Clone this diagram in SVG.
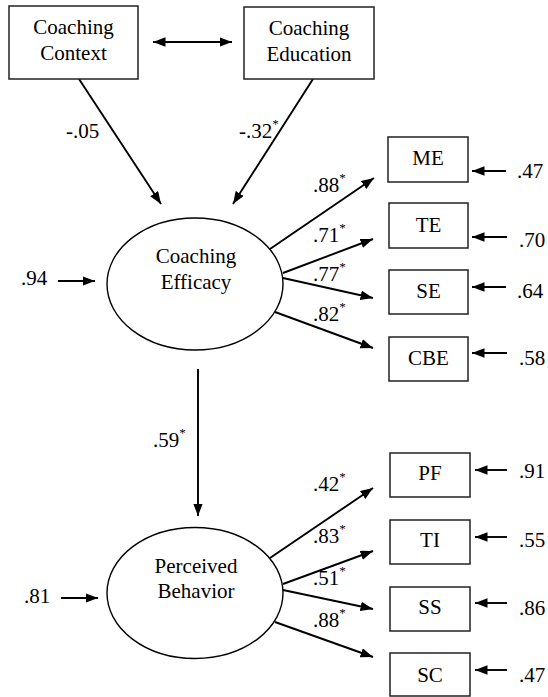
<svg xmlns="http://www.w3.org/2000/svg" width="548" height="697" viewBox="0 0 548 697">
<defs>
<marker id="ah" markerUnits="userSpaceOnUse" markerWidth="13" markerHeight="10" refX="12.5" refY="4.75" orient="auto-start-reverse">
<path d="M0,0 L12.5,4.75 L0,9.5 z" fill="#000"/>
</marker>
</defs>
<style>
.c{text-anchor:middle}
.box{fill:#fff;stroke:#222;stroke-width:1.5}
.ell{fill:#fff;stroke:#000;stroke-width:1.4}
.ln{stroke:#000;stroke-width:1.9;fill:none;marker-end:url(#ah)}
.dbl{marker-start:url(#ah)}
</style>
<rect width="548" height="697" fill="#fff"/>
<g id="connectors">
<line class="ln dbl" x1="153" y1="42" x2="232" y2="42"/>
<line class="ln" x1="79" y1="79" x2="161" y2="204"/>
<line class="ln" x1="313" y1="79" x2="233" y2="204"/>
<line class="ln" x1="58" y1="281" x2="95" y2="281"/>
<line class="ln" x1="270" y1="249" x2="374" y2="178"/>
<line class="ln" x1="283" y1="273" x2="373" y2="239"/>
<line class="ln" x1="283" y1="278" x2="373" y2="298"/>
<line class="ln" x1="275" y1="312" x2="373" y2="348"/>
<line class="ln" x1="506" y1="171" x2="472" y2="171"/>
<line class="ln" x1="507" y1="237" x2="472" y2="237"/>
<line class="ln" x1="506" y1="287" x2="472" y2="287"/>
<line class="ln" x1="507" y1="353" x2="472" y2="353"/>
<line class="ln" x1="198" y1="369" x2="198" y2="516"/>
<line class="ln" x1="61" y1="598" x2="98" y2="598"/>
<line class="ln" x1="270" y1="558" x2="373" y2="488"/>
<line class="ln" x1="283" y1="584" x2="373" y2="551"/>
<line class="ln" x1="283" y1="590" x2="373" y2="609"/>
<line class="ln" x1="275" y1="622" x2="373" y2="657"/>
<line class="ln" x1="507" y1="470" x2="475" y2="470"/>
<line class="ln" x1="507" y1="537" x2="475" y2="537"/>
<line class="ln" x1="507" y1="603" x2="475" y2="603"/>
<line class="ln" x1="507" y1="670" x2="475" y2="670"/>
</g>
<g id="labels" font-family="Liberation Serif, Times New Roman, serif" font-size="21" fill="#000">
<text x="66" y="138">-.05</text>
<text x="239" y="138">-.32<tspan font-size="13" dy="-10">*</tspan></text>
<text x="21" y="285">.94</text>
<text x="313" y="192">.88<tspan font-size="13" dy="-10">*</tspan></text>
<text x="313" y="242">.71<tspan font-size="13" dy="-10">*</tspan></text>
<text x="313" y="281">.77<tspan font-size="13" dy="-10">*</tspan></text>
<text x="313" y="321">.82<tspan font-size="13" dy="-10">*</tspan></text>
<text x="517" y="178">.47</text>
<text x="519" y="247">.70</text>
<text x="517" y="298">.64</text>
<text x="519" y="365">.58</text>
<text x="153" y="447">.59<tspan font-size="13" dy="-10">*</tspan></text>
<text x="24" y="603">.81</text>
<text x="313" y="491">.42<tspan font-size="13" dy="-10">*</tspan></text>
<text x="313" y="543">.83<tspan font-size="13" dy="-10">*</tspan></text>
<text x="313" y="585">.51<tspan font-size="13" dy="-10">*</tspan></text>
<text x="313" y="627">.88<tspan font-size="13" dy="-10">*</tspan></text>
<text x="519" y="478">.91</text>
<text x="519" y="547">.55</text>
<text x="519" y="615">.86</text>
<text x="519" y="682">.47</text>
</g>
<g font-family="Liberation Serif, Times New Roman, serif" font-size="21" fill="#000">
<g id="coaching-context">
<rect class="box" x="9" y="6" width="129" height="73"/>
<text class="c" x="73.5" y="33.5">Coaching</text>
<text class="c" x="73.5" y="59.5">Context</text>
</g>
<g id="coaching-education">
<rect class="box" x="244" y="7" width="130" height="72"/>
<text class="c" x="309" y="34.5">Coaching</text>
<text class="c" x="309" y="60.5">Education</text>
</g>
<g id="coaching-efficacy">
<ellipse class="ell" cx="195" cy="284" rx="88" ry="66"/>
<text class="c" x="196" y="263">Coaching</text>
<text class="c" x="196" y="289">Efficacy</text>
</g>
<g id="perceived-behavior">
<ellipse class="ell" cx="195" cy="593" rx="88" ry="65.5"/>
<text class="c" x="196" y="573">Perceived</text>
<text class="c" x="196" y="598">Behavior</text>
</g>
<g id="ME"><rect class="box" x="388" y="137" width="80" height="45"/><text class="c" x="428" y="165">ME</text></g>
<g id="TE"><rect class="box" x="389" y="203" width="79" height="45"/><text class="c" x="428.5" y="232">TE</text></g>
<g id="SE"><rect class="box" x="389" y="270" width="79" height="44"/><text class="c" x="428.5" y="298">SE</text></g>
<g id="CBE"><rect class="box" x="389" y="337" width="79" height="44"/><text class="c" x="428.5" y="365">CBE</text></g>
<g id="PF"><rect class="box" x="390" y="453" width="80" height="44"/><text class="c" x="430" y="480">PF</text></g>
<g id="TI"><rect class="box" x="390" y="520" width="80" height="44"/><text class="c" x="430" y="547">TI</text></g>
<g id="SS"><rect class="box" x="390" y="587" width="80" height="44"/><text class="c" x="430" y="614">SS</text></g>
<g id="SC"><rect class="box" x="390" y="653" width="80" height="43"/><text class="c" x="430" y="682">SC</text></g>
</g>
</svg>
